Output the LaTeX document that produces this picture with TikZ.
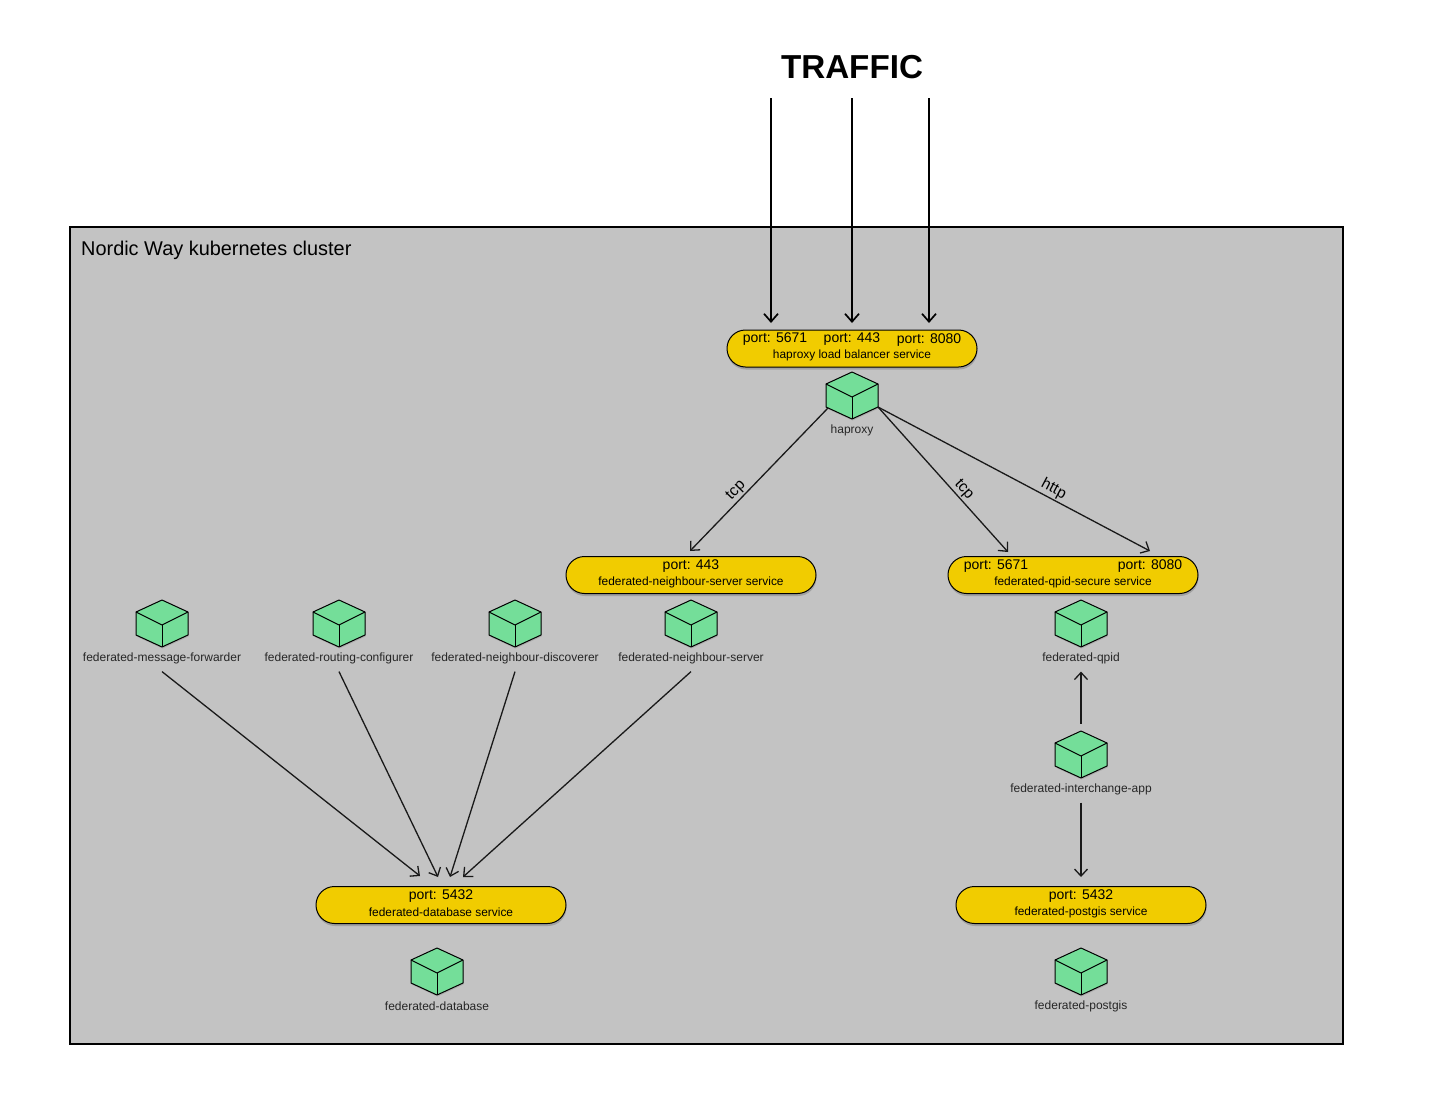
\documentclass[tikz,border=0pt]{standalone}
\usepackage{fontspec}
\setmainfont{Liberation Sans}
\usetikzlibrary{arrows.meta,calc,positioning,shadows,shapes.misc}
\definecolor{clustergray}{HTML}{C3C3C3}
\definecolor{serviceyellow}{HTML}{F1CC00}
\definecolor{podgreen}{HTML}{74DE99}
\tikzset{
	flow/.style={draw=black!90, line width=1.3pt, -{Straight Barb[length=7pt,width=13pt]}},
	inflow/.style={draw=black, line width=1.7pt, -{Straight Barb[length=8pt,width=14pt]}},
	service/.style={rounded rectangle, draw=black, line width=1pt, fill=serviceyellow, minimum width=250pt, minimum height=37pt, inner sep=0pt, drop shadow={opacity=0.5, shadow xshift=0.5pt, shadow yshift=-2.5pt}},
	porttext/.style={inner sep=0pt, font=\fontsize{14}{16}\selectfont},
	svctext/.style={inner sep=0pt, font=\fontsize{11.9}{14}\selectfont},
	podbox/.style={minimum width=52pt, minimum height=48pt, inner sep=0pt},
	podlabel/.style={inner sep=0pt, minimum height=26pt, text=black!85, font=\fontsize{12}{14}\selectfont},
	edgetext/.style={inner sep=1.5pt, font=\fontsize{15.5}{17}\selectfont},
}
% cube with its caption: name, position, caption
\newcommand{\podcube}[3]{
	\node[podbox] (#1) at (#2) {};
	\fill[podgreen, drop shadow={opacity=0.35, shadow xshift=0.5pt, shadow yshift=-1.5pt}] ($(#1)+(0,-24)$) -- ++(26,12) -- ++(0,23) -- ++(-26,12) -- ++(-26,-12) -- ++(0,-23) -- cycle;
	\draw[line width=1pt, line join=round] ($(#1)+(0,-24)$) -- ++(26,12) -- ++(0,23) -- ++(-26,12) -- ++(-26,-12) -- ++(0,-23) -- cycle;
	\draw[line width=1pt, line join=round] ($(#1)+(-26,-12)$) -- ($(#1)+(0,1)$) -- ($(#1)+(26,-12)$);
	\draw[line width=1pt] ($(#1)+(0,1)$) -- ($(#1)+(0,23)$);
	\coordinate (#1-sw) at ($(#1)+(-24,12)$);
	\coordinate (#1-se) at ($(#1)+(26,11)$);
	\node[podlabel, below=-3pt of #1] (#1-label) {#3};
}

\begin{document}
\begin{tikzpicture}[x=1pt, y=-1pt]
	\useasboundingbox (0,0) rectangle (1435,1103);
	\fill[white] (0,0) rectangle (1435,1103);

	\node[draw=black, line width=2pt, fill=clustergray, minimum width=1273pt, minimum height=817pt, inner sep=0pt] (cluster) at (706.5,635.5) {};
	\node[anchor=west, inner sep=0pt, font=\fontsize{19.9}{22}\selectfont] (clustertitle) at (81,250.5) {Nordic Way kubernetes cluster};
	\node[inner sep=0pt, font=\bfseries\fontsize{33.2}{38}\selectfont] (traffic) at (852,67.5) {TRAFFIC};

	% services
	\node[service] (hapsvc) at (852,348.5) {};
	\node[service] (serversvc) at (691,575) {};
	\node[service] (qpidsvc) at (1073,575) {};
	\node[service] (dbsvc) at (441,905) {};
	\node[service] (gissvc) at (1081,905) {};

	\node[porttext] (happort1) at ($(hapsvc)+(-77,-9)$) {port: 5671};
	\node[porttext] (happort2) at ($(hapsvc)+(0,-9)$) {port: 443};
	\node[porttext] (happort3) at ($(hapsvc)+(77,-8)$) {port: 8080};
	\node[svctext] (hapname) at ($(hapsvc)+(0,7)$) {haproxy load balancer service};
	\node[porttext] (serverport) at ($(serversvc)+(0,-9)$) {port: 443};
	\node[svctext] (servername) at ($(serversvc)+(0,7)$) {federated-neighbour-server service};
	\node[porttext] (qpidport1) at ($(qpidsvc)+(-77,-9)$) {port: 5671};
	\node[porttext] (qpidport2) at ($(qpidsvc)+(77,-8.5)$) {port: 8080};
	\node[svctext] (qpidname) at ($(qpidsvc)+(0,7)$) {federated-qpid-secure service};
	\node[porttext] (dbport) at ($(dbsvc)+(0,-9)$) {port: 5432};
	\node[svctext] (dbname) at ($(dbsvc)+(0,7)$) {federated-database service};
	\node[porttext] (gisport) at ($(gissvc)+(0,-9)$) {port: 5432};
	\node[svctext] (gisname) at ($(gissvc)+(0,7)$) {federated-postgis service};

	% pods
	\podcube{haproxy}{852,396}{haproxy}
	\podcube{forwarder}{162,624}{federated-message-forwarder}
	\podcube{configurer}{339,624}{federated-routing-configurer}
	\podcube{discoverer}{515,624}{federated-neighbour-discoverer}
	\podcube{server}{691,624}{federated-neighbour-server}
	\podcube{qpid}{1081,624}{federated-qpid}
	\podcube{interchange}{1081,755}{federated-interchange-app}
	\podcube{database}{437,972}{federated-database}
	\podcube{postgis}{1081,972}{federated-postgis}

	% free ends
	\coordinate (trafficA) at (771,98);
	\coordinate (trafficB) at (852,98);
	\coordinate (trafficC) at (929,98);
	\coordinate (hapinA) at (771,323);
	\coordinate (hapinB) at (852,323);
	\coordinate (hapinC) at (929,323);
	\coordinate (serverin) at (690,551);
	\coordinate (qpidinA) at (1008,552);
	\coordinate (qpidinB) at (1150,551);
	\coordinate (dbinA) at (420,876);
	\coordinate (dbinB) at (438,877);
	\coordinate (dbinC) at (450,877);
	\coordinate (dbinD) at (463,877);

	\foreach \a in {A,B,C}
		\draw[inflow] (traffic\a) -- (hapin\a);

	\draw[flow] (haproxy-sw) -- node[edgetext, pos=0.62, sloped, above] {tcp} (serverin);
	\draw[flow] (haproxy-se) -- node[edgetext, pos=0.61, sloped, above] {tcp} (qpidinA);
	\draw[flow] (haproxy-se) -- node[edgetext, pos=0.63, sloped, above] {http} (qpidinB);

	\foreach \p/\a in {forwarder/A, configurer/B, discoverer/C, server/D}
		\draw[flow] (\p-label.south) -- (dbin\a);

	\draw[flow, shorten <=7pt] (interchange.north) -- (qpid-label.south);
	\draw[flow] (interchange-label.south) -- (gissvc.north |- dbinB);
\end{tikzpicture}
\end{document}
